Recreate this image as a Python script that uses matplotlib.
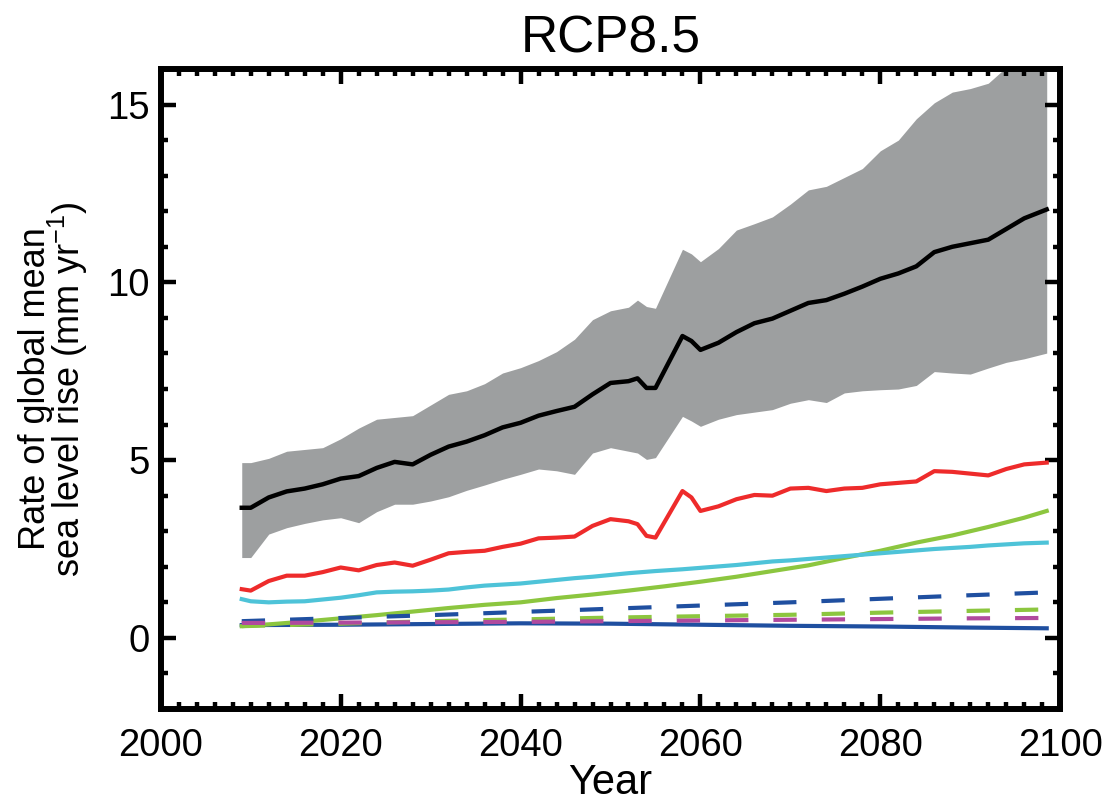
import numpy as np
import matplotlib
matplotlib.use('Agg')
import matplotlib.pyplot as plt
from matplotlib.ticker import MultipleLocator

plt.rcParams['font.family'] = ['Liberation Sans', 'DejaVu Sans']
plt.rcParams['mathtext.default'] = 'regular'

# ---- data (mm/yr) ----
years = [2009, 2010, 2012, 2014, 2016, 2018, 2020, 2022, 2024, 2026, 2028, 2030,
         2032, 2034, 2036, 2038, 2040, 2042, 2044, 2046, 2048, 2050, 2052, 2053,
         2054, 2055, 2058, 2059, 2060, 2062, 2064, 2066, 2068, 2070, 2072, 2074,
         2076, 2078, 2080, 2082, 2084, 2086, 2088, 2090, 2092, 2094, 2096, 2098.5]

total_mean = [3.66, 3.66, 3.95, 4.12, 4.2, 4.32, 4.48, 4.55, 4.78, 4.95, 4.88, 5.15,
              5.38, 5.52, 5.7, 5.92, 6.05, 6.25, 6.38, 6.5, 6.85, 7.17, 7.22, 7.3,
              7.03, 7.03, 8.49, 8.35, 8.1, 8.3, 8.6, 8.85, 8.98, 9.2, 9.42, 9.5,
              9.68, 9.88, 10.1, 10.25, 10.45, 10.85, 11.0, 11.1, 11.2, 11.5, 11.8, 12.05]

total_hi = [4.93, 4.93, 5.05, 5.25, 5.3, 5.35, 5.6, 5.9, 6.15, 6.2, 6.25, 6.55,
            6.85, 6.95, 7.15, 7.45, 7.6, 7.8, 8.05, 8.4, 8.95, 9.2, 9.3, 9.5,
            9.32, 9.27, 10.93, 10.8, 10.58, 10.95, 11.47, 11.65, 11.84, 12.2, 12.6, 12.7,
            12.95, 13.2, 13.7, 14.0, 14.6, 15.05, 15.35, 15.45, 15.6, 16.05, 16.4, 16.7]

total_lo = [2.26, 2.26, 2.92, 3.1, 3.22, 3.32, 3.38, 3.24, 3.55, 3.76, 3.76, 3.85,
            3.97, 4.15, 4.3, 4.46, 4.6, 4.75, 4.7, 4.6, 5.2, 5.35, 5.25, 5.2,
            5.02, 5.07, 6.23, 6.1, 5.95, 6.15, 6.28, 6.35, 6.42, 6.6, 6.7, 6.62,
            6.89, 6.95, 6.98, 7.0, 7.1, 7.49, 7.45, 7.42, 7.59, 7.75, 7.85, 8.01]

thermal = [1.37, 1.33, 1.6, 1.75, 1.75, 1.85, 1.98, 1.9, 2.05, 2.12, 2.03, 2.2,
           2.38, 2.42, 2.45, 2.56, 2.65, 2.8, 2.82, 2.85, 3.15, 3.34, 3.28, 3.2,
           2.87, 2.82, 4.13, 3.95, 3.57, 3.7, 3.9, 4.02, 4.0, 4.2, 4.22, 4.13,
           4.2, 4.22, 4.32, 4.36, 4.4, 4.69, 4.67, 4.62, 4.57, 4.75, 4.88, 4.93]

glaciers = [1.09, 1.03, 1.0, 1.02, 1.03, 1.08, 1.13, 1.2, 1.28, 1.3, 1.31, 1.33,
            1.36, 1.42, 1.47, 1.5, 1.53, 1.58, 1.63, 1.68, 1.72, 1.77, 1.82, 1.84,
            1.86, 1.88, 1.93, 1.95, 1.97, 2.01, 2.05, 2.1, 2.15, 2.18, 2.22, 2.26,
            2.3, 2.34, 2.38, 2.42, 2.46, 2.5, 2.53, 2.56, 2.6, 2.63, 2.66, 2.68]

years_g = [2009, 2012, 2016, 2020, 2024, 2028, 2032, 2036, 2040, 2044, 2048, 2052,
           2056, 2060, 2064, 2068, 2072, 2076, 2080, 2084, 2088, 2092, 2096, 2098.5]
greenland_smb = [0.33, 0.38, 0.46, 0.55, 0.64, 0.74, 0.84, 0.93, 1.0, 1.12, 1.22, 1.33,
                 1.45, 1.58, 1.72, 1.88, 2.04, 2.25, 2.45, 2.68, 2.88, 3.12, 3.38, 3.57]

years_s = [2009, 2020, 2030, 2040, 2050, 2060, 2070, 2080, 2090, 2098.5]
antarctic_smb = [0.36, 0.37, 0.39, 0.41, 0.4, 0.37, 0.34, 0.32, 0.29, 0.27]
antarctic_dyn = [0.47, 0.56, 0.64, 0.73, 0.82, 0.91, 1.0, 1.1, 1.2, 1.28]
greenland_dyn = [0.33, 0.4, 0.47, 0.52, 0.57, 0.61, 0.65, 0.71, 0.76, 0.8]
land_water = [0.42, 0.43, 0.44, 0.45, 0.47, 0.49, 0.51, 0.53, 0.55, 0.56]

# ---- plot ----
fig = plt.figure(figsize=(11.09, 8.09), dpi=100)
ax = fig.add_axes([0.145, 0.1236, 0.811, 0.7911])

ax.fill_between(years, total_lo, total_hi, color='#9d9fa0', lw=0)

dash = (5.6, 6.0)
ax.plot(years_s, antarctic_smb, color='#1f4fa0', lw=3)
ax.plot(years_g, greenland_smb, color='#8cc63f', lw=3)
ax.plot(years, glaciers, color='#4ec3d8', lw=3)
ax.plot(years_s, antarctic_dyn, color='#1f4fa0', lw=3, dashes=dash)
ax.plot(years_s, greenland_dyn, color='#8cc63f', lw=3, dashes=dash)
ax.plot(years_s, land_water, color='#b04a9e', lw=3, dashes=dash)
ax.plot(years, thermal, color='#ee2b2b', lw=3)
ax.plot(years, total_mean, color='k', lw=3.2)

ax.set_xlim(2000, 2100)
ax.set_ylim(-2, 16)
ax.xaxis.set_major_locator(MultipleLocator(20))
ax.xaxis.set_minor_locator(MultipleLocator(2))
ax.yaxis.set_major_locator(MultipleLocator(5))
ax.yaxis.set_minor_locator(MultipleLocator(1))

ax.tick_params(which='both', direction='in', top=True, right=True, width=3.2)
ax.tick_params(which='major', length=11, labelsize=27.5)
ax.tick_params(which='minor', length=5)
ax.tick_params(axis='x', which='major', pad=14)
ax.tick_params(axis='y', which='major', pad=8)
for s in ax.spines.values():
    s.set_linewidth(4.3)

ax.set_title('RCP8.5', fontsize=37, pad=12)
ax.set_xlabel('Year', fontsize=30, labelpad=-1)
ax.set_ylabel('Rate of global mean\nsea level rise (mm yr$^{-1}$)', fontsize=26,
              labelpad=12, linespacing=0.8)

fig.savefig('out.png', dpi=100)
